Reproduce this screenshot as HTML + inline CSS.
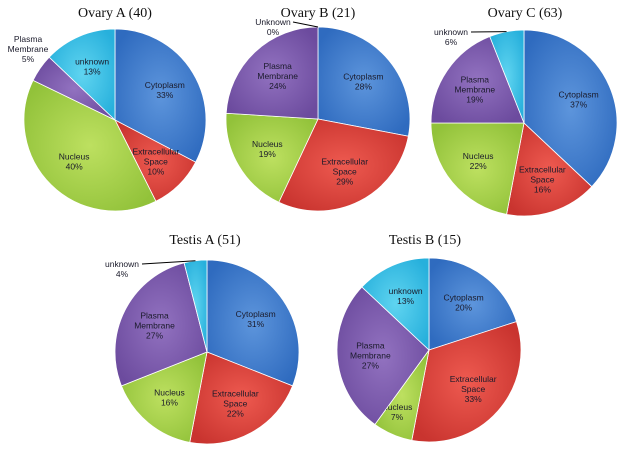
<!DOCTYPE html>
<html><head><meta charset="utf-8"><style>
body{margin:0;background:#fff;}
svg text{font-family:"Liberation Sans",sans-serif;}
.t{font-family:"Liberation Serif",serif;font-size:14px;fill:#111;}
.l{font-size:8.5px;fill:#1a1a2a;}
</style></head><body>
<svg id="c" width="623" height="451" viewBox="0 0 623 451">
<defs>
<radialGradient id="gb" cx="50%" cy="50%" r="60%"><stop offset="0" stop-color="#5d95dc"/><stop offset="1" stop-color="#2f6bbf"/></radialGradient>
<radialGradient id="gr" cx="50%" cy="50%" r="60%"><stop offset="0" stop-color="#ee5a50"/><stop offset="1" stop-color="#c9342f"/></radialGradient>
<radialGradient id="gg" cx="50%" cy="50%" r="60%"><stop offset="0" stop-color="#bde060"/><stop offset="1" stop-color="#92c23a"/></radialGradient>
<radialGradient id="gp" cx="50%" cy="50%" r="60%"><stop offset="0" stop-color="#9272c0"/><stop offset="1" stop-color="#6c4b9e"/></radialGradient>
<radialGradient id="gc" cx="50%" cy="50%" r="60%"><stop offset="0" stop-color="#5fd4f0"/><stop offset="1" stop-color="#27b0dc"/></radialGradient>
</defs>
</svg>
<script>
const categories = ["Cytoplasm","Extracellular Space","Nucleus","Plasma Membrane","unknown"];
const ovaryA = [33,10,40,5,13];
const ovaryB = [28,29,19,24,0];
const ovaryC = [37,16,22,19,6];
const testisA = [31,22,16,27,4];
const testisB = [20,33,7,27,13];
const titles = ["Ovary A (40)","Ovary B (21)","Ovary C (63)","Testis A (51)","Testis B (15)"];
const fills = ["url(#gb)","url(#gr)","url(#gg)","url(#gp)","url(#gc)"];
const layouts = [
 {d:ovaryA,cx:115,cy:120,r:91,tx:115,ty:17,name:"ovary-a",unk:"unknown",out:{3:[28,42]}},
 {d:ovaryB,cx:318,cy:119,r:92,tx:318,ty:17,name:"ovary-b",unk:"Unknown",out:{4:[273,25,true]}},
 {d:ovaryC,cx:524,cy:123,r:93,tx:525,ty:17,name:"ovary-c",unk:"unknown",out:{4:[451,35,true]}},
 {d:testisA,cx:207,cy:352,r:92,tx:205,ty:244,name:"testis-a",unk:"unknown",out:{4:[122,267,true]}},
 {d:testisB,cx:429,cy:350,r:92,tx:425,ty:244,name:"testis-b",unk:"unknown",out:{2:[397,410]}}
];
const svg=document.getElementById('c');
const NS="http://www.w3.org/2000/svg";
function pt(cx,cy,r,f){const a=f*2*Math.PI-Math.PI/2;return [cx+r*Math.cos(a),cy+r*Math.sin(a)];}
function lines(lbl){if(lbl==="Extracellular Space")return ["Extracellular","Space"];if(lbl==="Plasma Membrane")return ["Plasma","Membrane"];return [lbl];}
layouts.forEach((L,pi)=>{
 const g=document.createElementNS(NS,'g');
 
 
 svg.appendChild(g);
 const t=document.createElementNS(NS,'text');
 t.setAttribute('class','t');t.setAttribute('x',L.tx);t.setAttribute('y',L.ty);t.setAttribute('text-anchor','middle');
 t.textContent=titles[pi];
 
 
 g.appendChild(t);
 const tot=L.d.reduce((a,b)=>a+b,0);
 let acc=0;
 L.d.forEach((v,i)=>{
  const f0=acc/tot,f1=(acc+v)/tot;acc+=v;
  if(v>0){
   const p0=pt(L.cx,L.cy,L.r,f0),p1=pt(L.cx,L.cy,L.r,f1);
   const large=(f1-f0)>0.5?1:0;
   const p=document.createElementNS(NS,'path');
   p.setAttribute('d',`M${L.cx},${L.cy}L${p0[0]},${p0[1]}A${L.r},${L.r} 0 ${large} 1 ${p1[0]},${p1[1]}Z`);
   p.setAttribute('fill',fills[i]);p.setAttribute('stroke','#fff');p.setAttribute('stroke-width','0.8');
   
   
   g.appendChild(p);
  }
  const name=i===4?L.unk:categories[i];
  let ls=lines(name).concat([v+'%']);
  let lx,ly,outside=L.out[i];
  if(outside){lx=outside[0];ly=outside[1];
   if(outside[2]){const e=pt(L.cx,L.cy,L.r,(f0+f1)/2);const ln=document.createElementNS(NS,'path');
    ln.setAttribute('d',`M${lx+20},${ly-3}L${e[0]},${e[1]}`);ln.setAttribute('stroke','#000');ln.setAttribute('fill','none');ln.setAttribute('stroke-width','1');
    
    
    g.appendChild(ln);}
  } else {const m=pt(L.cx,L.cy,L.r*0.64,(f0+f1)/2);lx=m[0];ly=m[1]-(ls.length*10)/2+8;}
  const tx=document.createElementNS(NS,'text');
  tx.setAttribute('class','l');tx.setAttribute('text-anchor','middle');
  ls.forEach((s,k)=>{const ts=document.createElementNS(NS,'tspan');ts.setAttribute('x',lx);ts.setAttribute('y',ly+k*10);ts.textContent=s;tx.appendChild(ts);});
  
  
  g.appendChild(tx);
 });
});
</script>
</body></html>
